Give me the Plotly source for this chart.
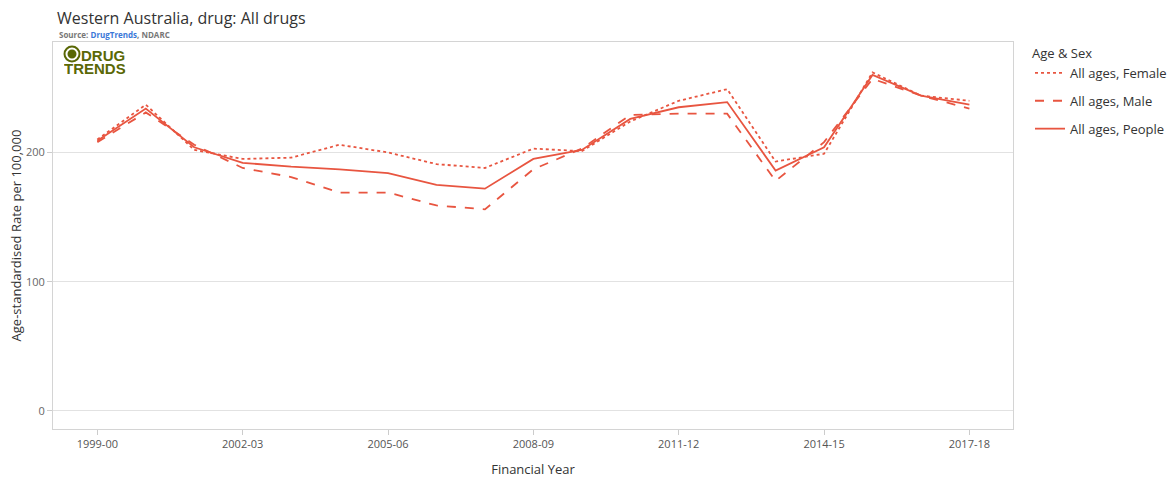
import plotly.graph_objects as go

years = ["1999-00", "2000-01", "2001-02", "2002-03", "2003-04", "2004-05", "2005-06",
         "2006-07", "2007-08", "2008-09", "2009-10", "2010-11", "2011-12", "2012-13",
         "2013-14", "2014-15", "2015-16", "2016-17", "2017-18"]
female = [210, 237, 202, 195, 196, 206, 200, 191, 188, 203, 201, 224, 240, 249, 193, 199, 262, 244, 240]
male = [208, 231, 206, 188, 181, 169, 169, 159, 156, 187, 203, 229, 230, 230, 178, 208, 257, 244, 234]
people = [209, 234, 204, 192, 189, 187, 184, 175, 172, 195, 202, 226, 235, 239, 186, 204, 260, 244, 237]
series_names = ["All ages, Female", "All ages, Male", "All ages, People"]
tick_years = ["1999-00", "2002-03", "2005-06", "2008-09", "2011-12", "2014-15", "2017-18"]
y_ticks = [0, 100, 200]

LINE = "rgb(232,85,64)"
W, H = 1170, 480
L, R, T, B = 53, 1013, 42, 429
PW, PH = R - L, B - T


def px(x):
    return (x - L) / PW


def py(y):
    return (B - y) / PH


fig = go.Figure()
for name, vals, dash in zip(series_names, [female, male, people], ["dot", "dash", "solid"]):
    fig.add_trace(go.Scatter(
        x=years, y=vals, mode="lines", name=name, legendgroup=name,
        line=dict(color=LINE, width=1.8, dash=dash),
    ))

fig.update_layout(
    width=W, height=H,
    margin=dict(l=L, r=W - R, t=T, b=H - B, autoexpand=False),
    paper_bgcolor="white", plot_bgcolor="white",
    font=dict(family="Open Sans, Noto Sans, sans-serif", color="#444"),
    title=dict(text="Western Australia, drug: All drugs", x=57 / W, xanchor="left",
               y=1 - 18 / H, yanchor="middle",
               font=dict(size=16, color="#333", family="Open Sans, sans-serif")),
    showlegend=True,
    legend=dict(
        x=px(1030), xanchor="left", y=py(41), yanchor="top",
        title=dict(text="Age & Sex", font=dict(size=13, color="#333")),
        font=dict(size=13, color="#333"),
        tracegroupgap=8, itemwidth=30,
        bgcolor="rgba(0,0,0,0)",
    ),
    xaxis=dict(
        type="category", categoryorder="array", categoryarray=years,
        range=[-0.915, 18.9],
        tickmode="array", tickvals=tick_years, ticktext=tick_years,
        ticks="outside", ticklen=5, tickcolor="#ccc",
        tickfont=dict(size=11, color="#555"),
        showline=True, linecolor="#d4d4d4", linewidth=1, mirror=True,
        showgrid=False, zeroline=False,
        title=dict(text="Financial Year", font=dict(size=13, color="#333"), standoff=14),
    ),
    yaxis=dict(
        range=[-14, 285.5],
        tickmode="array", tickvals=y_ticks,
        ticks="outside", ticklen=5, tickcolor="#ccc",
        tickfont=dict(size=11, color="#666"),
        showline=True, linecolor="#d4d4d4", linewidth=1, mirror=True,
        showgrid=True, gridcolor="#e2e2e2", zeroline=False,
        title=dict(text="Age-standardised Rate per 100,000", font=dict(size=13, color="#333"), standoff=1),
    ),
)

# Source line
fig.add_annotation(
    xref="paper", yref="paper", x=px(57), y=py(35), xanchor="left", yanchor="middle",
    text="<b>Source: <span style='color:#3b78d8'>DrugTrends</span>, NDARC</b>",
    showarrow=False, font=dict(size=8, color="#777", family="Open Sans, sans-serif"),
)

# Logo
OLIVE = "#5a6806"
fig.add_shape(type="circle", xref="paper", yref="paper", xsizemode="pixel", ysizemode="pixel",
              xanchor=px(72), yanchor=py(54), x0=-7.5, x1=7.5, y0=-7.5, y1=7.5,
              line=dict(color=OLIVE, width=2), fillcolor="rgba(0,0,0,0)")
fig.add_shape(type="circle", xref="paper", yref="paper", xsizemode="pixel", ysizemode="pixel",
              xanchor=px(72), yanchor=py(54), x0=-3.5, x1=3.5, y0=-3.5, y1=3.5,
              line=dict(color=OLIVE, width=2), fillcolor=OLIVE)
fig.add_annotation(
    xref="paper", yref="paper", x=px(80), y=py(55), xanchor="left", yanchor="middle",
    text="<b>DRUG</b>", showarrow=False, height=12, borderpad=0,
    font=dict(size=15, color=OLIVE, family="Liberation Sans, Arial, sans-serif"),
)
fig.add_annotation(
    xref="paper", yref="paper", x=px(63), y=py(67.5), xanchor="left", yanchor="middle",
    text="<b>TRENDS</b>", showarrow=False, height=12, borderpad=0,
    font=dict(size=15, color=OLIVE, family="Liberation Sans, Arial, sans-serif"),
)

fig.write_html("out.html", config={"displayModeBar": False},
               post_script="document.body.style.margin='0';document.body.style.overflow='hidden';")
